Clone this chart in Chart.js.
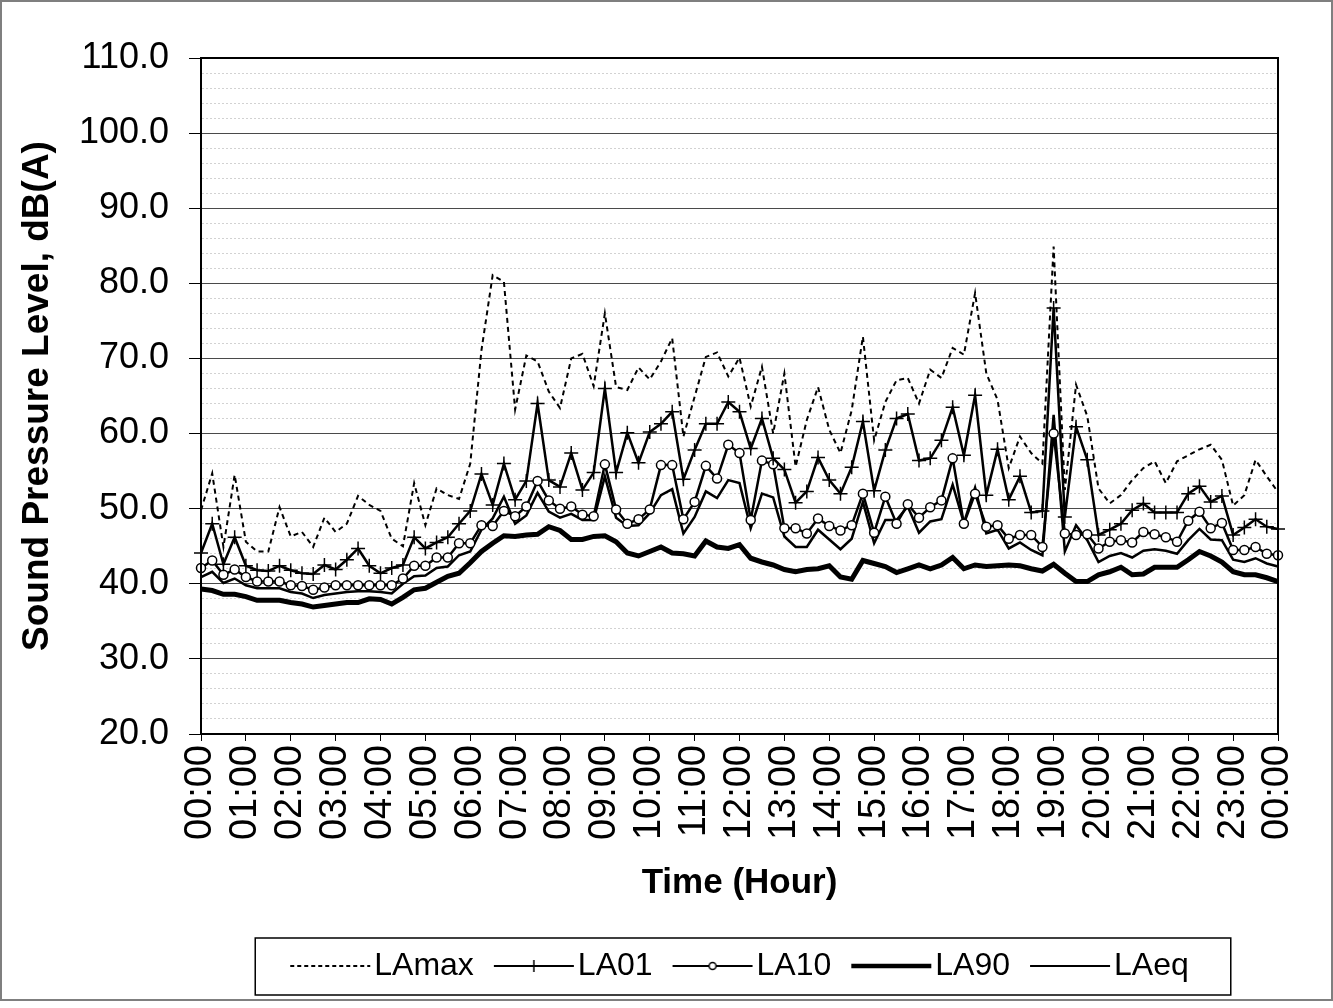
<!DOCTYPE html>
<html>
<head>
<meta charset="utf-8">
<script src="https://cdn.jsdelivr.net/npm/chart.js@4.4.0/dist/chart.umd.min.js"></script>
<style>
  html, body { margin: 0; padding: 0; background: #fff; }
</style>
</head>
<body>
<canvas id="graphCanvas" width="1333" height="1008"></canvas>
<script>
    // hourly tick labels, data is every 15 minutes
    const hourLabels = ['00:00', '01:00', '02:00', '03:00', '04:00', '05:00', '06:00', '07:00', '08:00',
        '09:00', '10:00', '11:00', '12:00', '13:00', '14:00', '15:00', '16:00', '17:00', '18:00',
        '19:00', '20:00', '21:00', '22:00', '23:00', '00:00'];

    const laMax = [49.8, 54.7, 44.9, 54.5, 45.6, 44.3, 44.3, 50.2, 46.3, 46.9, 44.9, 48.8, 46.9, 48.0, 51.7, 50.5,
        49.7, 46.0, 45.0, 53.4, 47.8, 52.7, 51.8, 51.3, 56.0, 71.1, 81.1, 80.2, 63.2, 70.4, 69.6, 65.6,
        63.4, 70.0, 70.6, 66.3, 76.0, 66.2, 65.8, 68.8, 67.2, 69.6, 72.7, 59.6, 64.9, 70.2, 70.8, 67.6,
        70.1, 63.6, 68.9, 60.0, 68.0, 55.6, 61.8, 66.2, 60.5, 57.4, 63.1, 72.9, 59.1, 64.2, 67.1, 67.4,
        64.0, 68.5, 67.4, 71.4, 70.5, 78.7, 68.0, 64.5, 55.4, 59.6, 57.4, 56.0, 84.9, 52.5, 66.5, 62.3,
        52.7, 50.7, 51.8, 53.8, 55.4, 56.3, 53.4, 56.3, 57.1, 57.9, 58.5, 56.5, 50.4, 51.8, 56.5, 54.3,
        52.2];
    const la01 = [44.1, 48.0, 42.6, 46.2, 42.4, 41.8, 41.7, 42.4, 41.8, 41.4, 41.3, 42.5, 41.9, 43.2, 44.7, 42.4,
        41.4, 42.1, 42.5, 46.2, 44.7, 45.5, 46.2, 48.0, 49.7, 54.6, 50.5, 56.0, 51.2, 53.7, 64.0, 53.8,
        52.9, 57.4, 52.5, 54.8, 66.0, 54.8, 60.1, 56.1, 60.2, 61.3, 62.9, 53.9, 57.8, 61.3, 61.3, 64.2,
        62.9, 58.0, 62.0, 56.7, 55.2, 50.8, 52.3, 56.8, 53.8, 52.0, 55.5, 61.6, 52.4, 57.8, 62.0, 62.6,
        56.4, 56.7, 59.1, 63.5, 57.1, 65.1, 51.8, 57.9, 51.2, 54.3, 49.5, 49.7, 76.7, 48.9, 60.9, 56.5,
        46.5, 47.2, 48.0, 49.8, 50.7, 49.5, 49.5, 49.5, 52.0, 53.0, 50.9, 51.7, 46.5, 47.5, 48.6, 47.6,
        47.3];
    const la10 = [42.1, 43.1, 41.2, 41.9, 40.9, 40.3, 40.3, 40.3, 39.8, 39.7, 39.2, 39.5, 39.8, 39.8, 39.8, 39.8,
        39.8, 39.8, 40.7, 42.4, 42.4, 43.5, 43.5, 45.4, 45.4, 47.8, 47.7, 49.7, 49.0, 50.3, 53.7, 51.1,
        50.0, 50.3, 49.2, 49.0, 55.9, 49.9, 48.0, 48.6, 49.9, 55.8, 55.8, 48.6, 50.9, 55.7, 54.0, 58.5,
        57.4, 48.5, 56.4, 55.9, 47.4, 47.4, 46.7, 48.7, 47.7, 47.1, 47.8, 52.0, 46.8, 51.6, 48.0, 50.6,
        48.8, 50.2, 51.1, 56.7, 48.0, 52.0, 47.6, 47.8, 46.0, 46.5, 46.5, 44.9, 60.0, 46.7, 46.5, 46.6,
        44.7, 45.6, 45.8, 45.5, 46.9, 46.6, 46.2, 45.6, 48.4, 49.6, 47.4, 48.1, 44.5, 44.5, 44.9, 44.0,
        43.8];
    const la90 = [39.3, 39.1, 38.6, 38.6, 38.3, 37.8, 37.8, 37.8, 37.5, 37.3, 36.9, 37.1, 37.3, 37.5, 37.5, 38.0,
        37.9, 37.3, 38.2, 39.2, 39.4, 40.2, 41.0, 41.4, 42.8, 44.3, 45.4, 46.4, 46.3, 46.5, 46.6, 47.6,
        47.1, 45.9, 45.9, 46.3, 46.4, 45.6, 44.1, 43.7, 44.3, 44.9, 44.1, 44.0, 43.7, 45.7, 44.9, 44.7,
        45.2, 43.4, 42.9, 42.5, 41.9, 41.6, 41.9, 42.0, 42.4, 40.9, 40.6, 43.1, 42.7, 42.3, 41.5, 42.0,
        42.5, 42.0, 42.5, 43.5, 42.0, 42.5, 42.3, 42.4, 42.5, 42.4, 42.0, 41.7, 42.6, 41.4, 40.3, 40.3,
        41.2, 41.6, 42.2, 41.2, 41.3, 42.2, 42.2, 42.2, 43.2, 44.3, 43.7, 42.9, 41.6, 41.2, 41.2, 40.8,
        40.3];
    const laEq = [40.9, 41.6, 40.1, 40.7, 39.8, 39.4, 39.4, 39.4, 38.9, 38.7, 38.1, 38.5, 38.7, 38.9, 39.0, 39.0,
        38.9, 38.7, 40.0, 41.0, 41.1, 42.1, 42.3, 43.8, 44.3, 47.2, 48.7, 51.6, 48.0, 49.1, 52.1, 49.6,
        48.8, 49.3, 48.5, 48.5, 54.3, 48.8, 47.7, 47.8, 49.4, 51.8, 52.6, 46.7, 48.9, 52.3, 51.4, 53.8,
        53.4, 47.4, 52.0, 51.5, 46.3, 44.9, 44.9, 47.2, 45.9, 44.6, 46.0, 50.9, 45.4, 48.5, 48.5, 50.3,
        46.8, 48.3, 48.6, 53.2, 48.1, 52.8, 46.7, 47.2, 44.7, 45.5, 44.5, 43.8, 62.5, 44.3, 47.8, 45.8,
        42.9, 43.7, 44.1, 43.5, 44.4, 44.6, 44.4, 44.0, 45.8, 47.3, 45.9, 45.8, 43.2, 42.9, 43.4, 42.7,
        42.3];

    // one category per quarter hour, label only on the hour
    const categories = [];
    hourLabels.forEach(function(h, i) {
        categories.push(h);
        if (i < hourLabels.length - 1) categories.push('', '', '');
    });

    const fontFamily = "'Liberation Sans', Arial, sans-serif";
    Chart.defaults.font.family = fontFamily;
    Chart.defaults.color = '#000';

    function isMajor(v) {
        return Math.abs(v - Math.round(v / 10) * 10) < 0.01;
    }

    // little legend samples: line plus marker
    function legendSample(kind) {
        const c = document.createElement('canvas');
        c.width = 96;
        c.height = 20;
        const g = c.getContext('2d');
        g.strokeStyle = '#000';
        g.lineWidth = kind === 'thick' ? 4.5 : (kind === 'dash' ? 1.8 : 2);
        if (kind === 'dash') g.setLineDash([4, 3]);
        g.beginPath();
        g.moveTo(14, 10);
        g.lineTo(94, 10);
        g.stroke();
        g.setLineDash([]);
        g.lineWidth = 1.5;
        if (kind === 'cross') {
            g.beginPath();
            g.moveTo(54, 4); g.lineTo(54, 16);
            g.stroke();
        }
        if (kind === 'circle') {
            g.fillStyle = '#fff';
            g.beginPath();
            g.arc(54, 10, 3.5, 0, Math.PI * 2);
            g.fill();
            g.stroke();
        }
        return c;
    }

    const plotFrame = {
        id: 'plotFrame',
        afterDraw: function(chart) {
            const ctx = chart.ctx;
            const a = chart.chartArea;
            ctx.save();
            ctx.strokeStyle = '#000';
            ctx.lineWidth = 2;
            ctx.strokeRect(a.left, a.top, a.right - a.left, a.bottom - a.top);

            // legend frame
            const hb = chart.legend.legendHitBoxes;
            if (hb && hb.length) {
                const l = hb[0].left - 35;
                const r = hb[hb.length - 1].left + hb[hb.length - 1].width + 42;
                const t = hb[0].top - 12;
                const b = hb[0].top + hb[0].height + 13;
                ctx.lineWidth = 1.5;
                ctx.strokeRect(l, t, r - l, b - t);
            }

            // outer chart border
            ctx.strokeStyle = '#7f7f7f';
            ctx.lineWidth = 2;
            ctx.strokeRect(1, 1, chart.width - 2, 999);
            ctx.restore();
        }
    };

    const ctx = document.getElementById('graphCanvas');

    new Chart(ctx, {
        type: 'line',
        data: {
            labels: categories,
            datasets: [{
                label: 'LAmax',
                data: laMax,
                borderColor: '#000',
                borderWidth: 2,
                borderDash: [5, 4],
                pointRadius: 0
            }, {
                label: 'LA01',
                data: la01,
                borderColor: '#000',
                borderWidth: 2.5,
                pointStyle: 'cross',
                pointRadius: 7,
                pointBorderWidth: 1.5,
                pointBorderColor: '#000'
            }, {
                label: 'LA10',
                data: la10,
                borderColor: '#000',
                borderWidth: 2.5,
                pointStyle: 'circle',
                pointRadius: 4.5,
                pointBorderWidth: 1.5,
                pointBorderColor: '#000',
                pointBackgroundColor: '#fff'
            }, {
                label: 'LA90',
                data: la90,
                borderColor: '#000',
                borderWidth: 5,
                pointRadius: 0
            }, {
                label: 'LAeq',
                data: laEq,
                borderColor: '#000',
                borderWidth: 2.5,
                pointRadius: 0
            }]
        },
        options: {
            responsive: false,
            animation: false,
            events: [],
            elements: {
                line: { tension: 0, fill: false }
            },
            layout: {
                padding: { top: 58, right: 55, bottom: 16, left: 0 }
            },
            plugins: {
                tooltip: { enabled: false },
                legend: {
                    position: 'bottom',
                    fullSize: false,
                    labels: {
                        usePointStyle: true,
                        pointStyleWidth: 68,
                        padding: 20,
                        color: '#000',
                        font: { size: 32 },
                        generateLabels: function(chart) {
                            const kinds = ['dash', 'cross', 'circle', 'thick', 'plain'];
                            return chart.data.datasets.map(function(ds, i) {
                                return {
                                    text: ds.label,
                                    pointStyle: legendSample(kinds[i]),
                                    fillStyle: '#000',
                                    strokeStyle: '#000',
                                    lineWidth: 0,
                                    fontColor: '#000',
                                    datasetIndex: i
                                };
                            });
                        }
                    }
                }
            },
            scales: {
                x: {
                    offset: false,
                    afterFit: function(scale) { scale.height = 196; },
                    grid: {
                        drawOnChartArea: false,
                        drawTicks: true,
                        tickLength: 7,
                        tickColor: function(c) { return c.index % 4 === 0 ? '#000' : 'rgba(0,0,0,0)'; }
                    },
                    border: { color: '#000', width: 2 },
                    ticks: {
                        autoSkip: false,
                        minRotation: 90,
                        maxRotation: 90,
                        padding: 4,
                        font: { size: 38 },
                        color: '#000'
                    },
                    title: {
                        display: true,
                        text: 'Time (Hour)',
                        font: { size: 35, weight: 'bold' },
                        color: '#000',
                        padding: { top: 0, bottom: 26 }
                    }
                },
                y: {
                    min: 20,
                    max: 110,
                    afterFit: function(scale) { scale.width = 201; },
                    grid: {
                        color: function(c) {
                            if (!c.tick) return '#000';
                            return isMajor(c.tick.value) ? '#4a4a4a' : '#d2d2d2';
                        },
                        lineWidth: 1,
                        tickLength: 12,
                        tickColor: function(c) {
                            return c.tick && isMajor(c.tick.value) ? '#000' : 'rgba(0,0,0,0)';
                        }
                    },
                    border: {
                        color: '#000',
                        width: 2,
                        dash: function(c) {
                            return c.tick && !isMajor(c.tick.value) ? [2, 2] : [];
                        }
                    },
                    ticks: {
                        stepSize: 2,
                        autoSkip: false,
                        padding: 20,
                        font: { size: 36 },
                        color: '#000',
                        callback: function(value) {
                            return isMajor(value) ? Math.round(value).toFixed(1) : '';
                        }
                    },
                    title: {
                        display: true,
                        text: 'Sound Pressure Level, dB(A)',
                        font: { size: 37, weight: 'bold' },
                        color: '#000',
                        padding: { top: 16, bottom: 0 }
                    }
                }
            }
        },
        plugins: [plotFrame]
    });
</script>
</body>
</html>
